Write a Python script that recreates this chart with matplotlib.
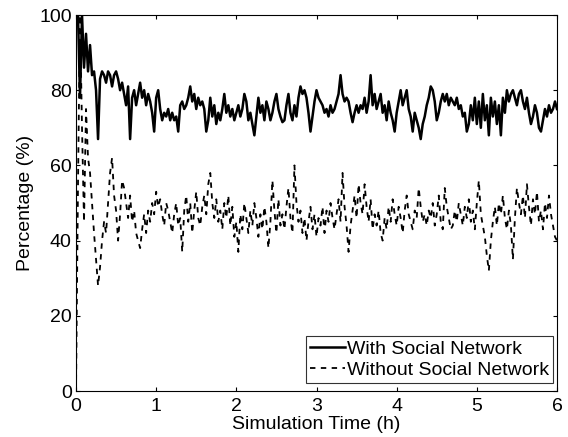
import numpy as np
import matplotlib
matplotlib.use('Agg')
import matplotlib.pyplot as plt

plt.rcParams['font.family'] = ['Liberation Sans', 'DejaVu Sans']

# sample step of both series (hours)
dt = 0.025

# with social network (%), 0.2 h per row
with_sn = [
    100, 100, 78, 100, 86, 95, 85, 92,
    84, 85, 80, 67, 83, 85, 84, 82,
    85, 84, 81, 84, 85, 83, 80, 82,
    79, 76, 81, 67, 78, 80, 76, 79,
    82, 78, 80, 76, 79, 77, 74, 69,
    78, 80, 75, 72, 74, 73, 75, 72,
    74, 72, 73, 69, 76, 77, 75, 76,
    78, 81, 77, 79, 75, 78, 76, 77,
    75, 69, 72, 78, 73, 76, 71, 74,
    72, 75, 79, 74, 76, 73, 75, 72,
    74, 76, 73, 75, 79, 77, 72, 74,
    71, 68, 73, 78, 74, 76, 72, 77,
    75, 72, 74, 77, 79, 75, 73, 71.5,
    72, 76, 79, 74, 72, 76, 73, 78,
    81, 79, 80, 78, 74, 69, 73, 77,
    80, 78, 77, 76, 74, 75, 73, 76,
    74, 75, 77, 79, 84, 79, 77, 78,
    77, 74, 71.5, 74, 76, 74, 76, 75,
    78, 74, 77, 84, 76, 79, 75, 77,
    79, 74, 76, 72, 77, 74, 72, 69,
    74, 77, 80, 76, 78, 80, 75, 73,
    69, 74, 72, 70, 67, 71, 73, 76,
    78, 81, 80, 77, 72, 74, 77, 79,
    77, 79, 76, 78, 77, 76, 78, 75,
    76, 73, 74, 69, 71, 76, 72, 78,
    71, 77, 70, 79, 72, 76, 68, 78,
    73, 77, 71, 76, 68, 78, 74, 80,
    77, 79, 80, 78, 76, 79, 80, 77,
    75, 78, 74, 71, 73, 76, 74, 70,
    69, 72, 75, 73, 76, 74, 75, 77,
    75,
]

# without social network (%)
without_sn = [
    0, 55, 100, 70, 45, 75, 62, 58,
    50, 42, 35, 28, 33, 40, 45, 42,
    50, 58, 62, 52, 48, 40, 47, 56,
    54, 50, 46, 52, 45, 48, 42, 40,
    38, 43, 47, 42, 48, 45, 50, 47,
    53, 49, 51, 47, 44, 50, 48, 45,
    42, 47, 50, 44, 46, 37, 48, 52,
    45, 50, 42, 48, 53, 46, 44, 49,
    52, 47, 55, 58, 50, 46, 51, 45,
    48, 43, 50, 46, 52, 44, 49, 41,
    45, 37, 47, 43, 50, 46, 42, 48,
    44, 50, 46, 41, 47, 43, 49, 45,
    38, 45, 56, 48, 42, 51, 44, 47,
    43, 49, 54, 46, 42, 60, 50, 45,
    48, 42, 46, 40, 45, 49, 43, 47,
    41, 46, 44, 49, 42, 48, 45, 50,
    46, 43, 47, 51, 45, 58, 49, 44,
    37, 44, 48, 52, 46, 55, 50, 47,
    55, 49, 45, 51, 43, 47, 44, 48,
    42, 40, 46, 43, 49, 45, 51, 47,
    44, 49, 46, 42, 48, 52, 47, 45,
    43, 48, 46, 54, 49, 45, 47, 44,
    48, 46, 50, 44, 47, 52, 45, 43,
    54, 49, 46, 43, 44, 48, 45, 50,
    47, 44, 49, 46, 51, 45, 48, 43,
    50, 56, 47, 44, 41, 36, 32, 40,
    45, 49, 44, 50, 47, 52, 46, 43,
    48, 44, 35, 46, 54, 50, 47, 52,
    46, 55, 49, 44, 51, 47, 53, 45,
    48, 43, 50, 46, 52, 47, 44, 41,
    40,
]

t = np.arange(len(with_sn)) * dt

fig = plt.figure(figsize=(5.68, 4.37), dpi=100)
ax = fig.add_axes([76/568, 1-391/437, (557-76)/568, (391-15)/437])

ax.plot(t, with_sn, '-', color='black', lw=1.8, label='With Social Network')
ax.plot(t, without_sn, '--', color='black', lw=1.3, dashes=(3, 3),
        label='Without Social Network')

ax.set_xlim(0, 6)
ax.set_ylim(0, 100)
ax.set_xticks(range(0, 7))
ax.set_yticks(range(0, 101, 20))
ax.tick_params(direction='in', top=True, right=True, length=3, labelsize=14)
ax.tick_params(axis='x', pad=5)
ax.tick_params(axis='y', pad=3)
for s in ax.spines.values():
    s.set_linewidth(0.8)
ax.set_xlabel('Simulation Time (h)', fontsize=14, labelpad=1)
ax.set_ylabel('Percentage (%)', fontsize=14, labelpad=4)

leg = ax.legend(loc='lower right', bbox_to_anchor=(553/568, 1-383/437),
                bbox_transform=fig.transFigure, fontsize=14, frameon=True,
                fancybox=False, borderaxespad=0, borderpad=0.2,
                handlelength=1.8, handletextpad=0.1, labelspacing=0.2)
leg.get_frame().set_edgecolor('black')
leg.get_frame().set_linewidth(0.8)

fig.savefig('out.png', dpi=100)
